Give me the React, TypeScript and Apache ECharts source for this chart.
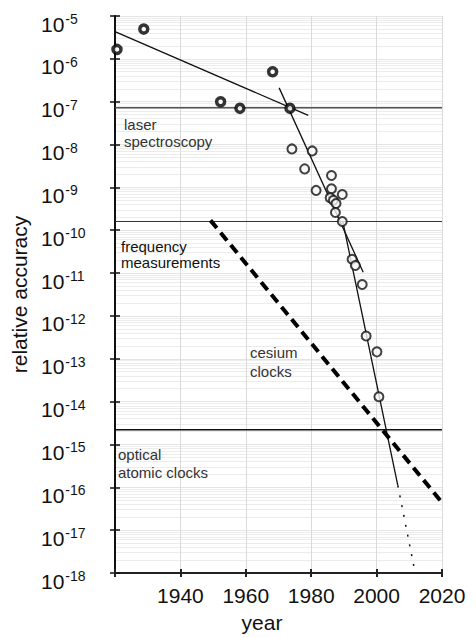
import React, { useEffect, useRef } from 'react';
import * as echarts from 'echarts';

// early measurements (bold black rings)
const earlyYears = [1920.6, 1928.8, 1952.3, 1958.2, 1968.2, 1973.5];
const earlyAccuracy = [1.66e-6, 4.95e-6, 1.0e-7, 7.0e-8, 5.0e-7, 7.0e-8];

// later measurements (open circles)
const laterYears = [1974.1, 1980.3, 1978.0, 1986.2, 1981.5, 1986.2, 1985.8, 1989.5, 1986.8, 1987.6, 1987.4, 1989.5, 1992.5, 1993.5, 1995.6, 1996.8, 2000.1, 2000.7];
const laterAccuracy = [7.9e-9, 7.1e-9, 2.7e-9, 1.9e-9, 8.5e-10, 9.3e-10, 5.7e-10, 6.8e-10, 5.0e-10, 4.2e-10, 2.6e-10, 1.6e-10, 2.1e-11, 1.5e-11, 5.4e-12, 3.4e-13, 1.45e-13, 1.3e-14];

// trend lines [year, accuracy]
const trendEarly = [[1920, 4.3e-6], [1979.1, 4.8e-8]];
const trendMid = [[1970.2, 2.1e-7], [1995.9, 1.05e-11]];
const trendLate = [[1989.7, 1.55e-10], [2006.5, 1.1e-16]];
const trendProjection = [[2006.5, 1.1e-16], [2011.8, 1.0e-18]];
const cesiumTrend = [[1949.2, 1.7e-10], [2019.7, 4.7e-17]];

// technique limits
const limitYears = [1920, 2020];
const laserLimit = 7.2e-8;
const frequencyLimit = 1.6e-10;
const opticalLimit = 2.2e-15;

const xTicks = [1920, 1940, 1960, 1980, 2000, 2020];

const FONT = '"Liberation Sans", Arial, Helvetica, sans-serif';

export default function App() {
  const ref = useRef<HTMLDivElement>(null);
  useEffect(() => {
    if (!ref.current) return;
    const chart = echarts.init(ref.current, undefined, { renderer: 'svg' });
    const pairs = (xs: number[], ys: number[]) => xs.map((x, i) => [x, ys[i]]);
    const hline = (v: number) => limitYears.map((y) => [y, v]);
    const baseLine = (name: string, data: number[][], style: any, z = 3) => ({
      name,
      type: 'line',
      data,
      symbol: 'none',
      silent: true,
      z,
      lineStyle: style,
    });
    const logAxisBase = {
      type: 'log',
      logBase: 10,
      min: 1e-18,
      max: 1e-5,
      interval: 1,
      splitNumber: 13,
    };
    chart.setOption({
      animation: false,
      backgroundColor: '#ffffff',
      textStyle: { fontFamily: FONT },
      grid: { left: 115, right: 34, top: 16, bottom: 55, containLabel: false },
      xAxis: [
        {
          type: 'value',
          min: 1920,
          max: 2020,
          interval: 20,
          name: 'year',
          nameLocation: 'middle',
          nameGap: 39,
          nameTextStyle: { fontSize: 21, color: '#111', padding: [0, 33, 0, 0], fontFamily: FONT },
          axisLine: { show: true, lineStyle: { color: '#222', width: 2 } },
          axisTick: { show: true, inside: false, length: 4, lineStyle: { color: '#222', width: 2 } },
          axisLabel: {
            fontSize: 21,
            color: '#111',
            margin: 12,
            fontFamily: FONT,
            formatter: (v: number) => (v === xTicks[0] ? '' : String(v)),
          },
          splitLine: { show: true, lineStyle: { color: '#dadada', width: 1 } },
        },
        {
          type: 'value',
          min: 1920,
          max: 2020,
          interval: 20,
          position: 'bottom',
          axisLine: { show: false },
          axisTick: { show: true, inside: true, length: 4, lineStyle: { color: '#222', width: 2 } },
          axisLabel: { show: false },
          splitLine: { show: false },
        },
      ],
      yAxis: [
        {
          ...logAxisBase,
          name: 'relative accuracy',
          nameLocation: 'middle',
          nameGap: 84,
          nameTextStyle: { fontSize: 21, color: '#111', fontFamily: FONT },
          axisLine: { show: true, lineStyle: { color: '#111', width: 2 } },
          axisTick: { show: true, inside: false, length: 5, lineStyle: { color: '#111', width: 1.5 } },
          axisLabel: {
            align: 'left',
            margin: 74,
            color: '#111',
            fontFamily: FONT,
            formatter: (v: number) => `{b|10}{s|${Math.round(Math.log10(v))}}`,
            rich: {
              b: { fontSize: 21, color: '#111', fontFamily: FONT, padding: [16, 0, 0, 0] },
              s: { fontSize: 14, color: '#111', fontFamily: FONT, padding: [6, 0, 0, 1] },
            },
          },
          splitLine: { show: true, lineStyle: { color: '#e4e4e4', width: 1 } },
          minorTick: { show: false, splitNumber: 9 },
          minorSplitLine: { show: true, lineStyle: { color: '#ececec', width: 1 } },
        },
        {
          ...logAxisBase,
          position: 'left',
          axisLine: { show: false },
          axisTick: { show: true, inside: true, length: 5, lineStyle: { color: '#111', width: 1.5 } },
          axisLabel: { show: false },
          splitLine: { show: false },
        },
      ],
      series: [
        baseLine('laser spectroscopy limit', hline(laserLimit), { color: '#555', width: 1.5 }),
        baseLine('frequency measurements limit', hline(frequencyLimit), { color: '#333', width: 1 }),
        baseLine('optical atomic clocks limit', hline(opticalLimit), { color: '#111', width: 1.5 }),
        baseLine('early trend', trendEarly, { color: '#111', width: 1.3 }),
        baseLine('mid trend', trendMid, { color: '#111', width: 1.3 }),
        baseLine('late trend', trendLate, { color: '#111', width: 1.3 }),
        baseLine('projection', trendProjection, { color: '#111', width: 1.5, type: [2, 8] }),
        baseLine('cesium clocks', cesiumTrend, { color: '#000', width: 4, type: [10, 6] }, 4),
        {
          name: 'early measurements',
          type: 'scatter',
          data: pairs(earlyYears, earlyAccuracy),
          symbol: 'circle',
          symbolSize: 8,
          z: 6,
          itemStyle: { color: '#ffffff', borderColor: '#000', borderWidth: 3.5 },
        },
        {
          name: 'later measurements',
          type: 'scatter',
          data: pairs(laterYears, laterAccuracy),
          symbol: 'circle',
          symbolSize: 9,
          z: 6,
          itemStyle: { color: '#f6f6f6', borderColor: '#111', borderWidth: 2 },
        },
      ],
      graphic: [
        {
          type: 'text',
          left: 124,
          top: 116,
          z: 10,
          style: { text: 'laser\nspectroscopy', font: `15px ${FONT}`, lineHeight: 17, fill: '#333' },
        },
        {
          type: 'text',
          left: 121,
          top: 238,
          z: 10,
          style: { text: 'frequency\nmeasurements', font: `15px ${FONT}`, lineHeight: 16, fill: '#111' },
        },
        {
          type: 'text',
          left: 250,
          top: 343,
          z: 10,
          style: { text: 'cesium\nclocks', font: `15px ${FONT}`, lineHeight: 19, fill: '#333' },
        },
        {
          type: 'text',
          left: 118,
          top: 445,
          z: 10,
          style: { text: 'optical\natomic clocks', font: `15px ${FONT}`, lineHeight: 18, fill: '#333' },
        },
      ],
    });
    return () => chart.dispose();
  }, []);
  return <div ref={ref} style={{ position: 'fixed', left: 0, top: 0, width: 476, height: 638, background: '#fff' }} />;
}
